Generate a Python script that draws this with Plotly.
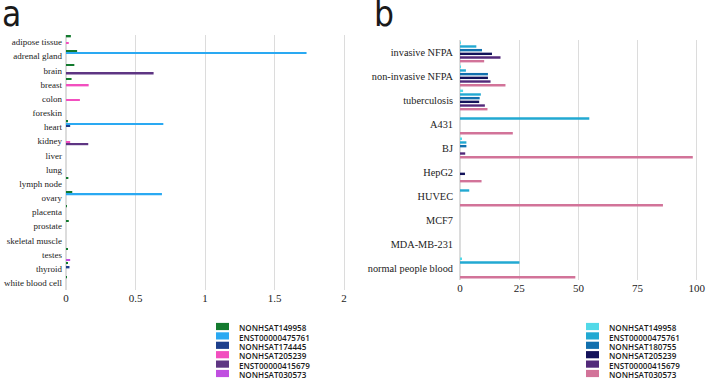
import plotly.graph_objects as go

# ---------- Panel a data ----------
tissues = ["adipose tissue", "adrenal gland", "brain", "breast", "colon", "foreskin",
           "heart", "kidney", "liver", "lung", "lymph node", "ovary", "placenta",
           "prostate", "skeletal muscle", "testes", "thyroid", "white blood cell"]
a_names = ["NONHSAT149958", "ENST00000475761", "NONHSAT174445",
           "NONHSAT205239", "ENST00000415679", "NONHSAT030573"]
a_nonhsat149958 = [0.035, 0.08, 0.06, 0.04, 0, 0, 0.01, 0, 0, 0, 0.017, 0.045, 0.006, 0.02, 0, 0.01, 0.01, 0.005]
a_enst475761    = [0, 1.73, 0, 0, 0, 0, 0.70, 0, 0, 0, 0, 0.69, 0, 0, 0, 0, 0, 0]
a_nonhsat174445 = [0, 0, 0, 0, 0, 0, 0.03, 0, 0, 0, 0, 0, 0, 0, 0, 0, 0.025, 0]
a_nonhsat205239 = [0.02, 0, 0, 0.163, 0.10, 0, 0, 0.03, 0, 0, 0, 0, 0, 0, 0, 0, 0, 0]
a_enst415679    = [0, 0, 0.63, 0, 0, 0, 0, 0.16, 0, 0, 0, 0, 0, 0, 0, 0, 0, 0]
a_nonhsat030573 = [0, 0, 0, 0, 0, 0, 0, 0, 0, 0, 0, 0, 0, 0, 0, 0.03, 0, 0]
a_values = [a_nonhsat149958, a_enst475761, a_nonhsat174445,
            a_nonhsat205239, a_enst415679, a_nonhsat030573]
a_colors = ["#137a2e", "#2aa9f2", "#1d3f8c", "#f24fbf", "#5e3583", "#c04fe0"]
a_ticks = [0, 0.5, 1, 1.5, 2]
a_ticktext = ["0", "0.5", "1", "1.5", "2"]

# ---------- Panel b data ----------
samples = ["invasive NFPA", "non-invasive NFPA", "tuberculosis", "A431", "BJ",
           "HepG2", "HUVEC", "MCF7", "MDA-MB-231", "normal people blood"]
b_names = ["NONHSAT149958", "ENST00000475761", "NONHSAT180755",
           "NONHSAT205239", "ENST00000415679", "NONHSAT030573"]
b_nonhsat149958 = [0.4, 0.3, 1.3, 0, 0.5, 0, 0, 0, 0, 0.5]
b_enst475761    = [6.9, 2.5, 8.8, 54.6, 2.7, 0, 3.9, 0, 0, 25.1]
b_nonhsat180755 = [9.3, 11.8, 8.3, 0, 2.7, 0, 0, 0, 0, 0]
b_nonhsat205239 = [13.5, 11.8, 8.1, 0, 0, 2.1, 0, 0, 0, 0]
b_enst415679    = [17.1, 12.9, 10.5, 0, 2.2, 0, 0, 0, 0, 0]
b_nonhsat030573 = [10.2, 19.2, 11.6, 22.3, 98.3, 9.1, 85.7, 0, 0, 48.7]
b_values = [b_nonhsat149958, b_enst475761, b_nonhsat180755,
            b_nonhsat205239, b_enst415679, b_nonhsat030573]
b_colors = ["#52d9e8", "#22a9d2", "#1270ae", "#13125a", "#52297a", "#d27399"]
b_ticks = [0, 25, 50, 75, 100]
b_ticktext = ["0", "25", "50", "75", "100"]

W, H = 708, 385
fig = go.Figure()

for name, vals, col in zip(a_names, a_values, a_colors):
    fig.add_trace(go.Bar(y=tissues, x=vals, name=name, orientation="h",
                         marker=dict(color=col, line=dict(width=0)),
                         xaxis="x", yaxis="y", showlegend=False))
for name, vals, col in zip(b_names, b_values, b_colors):
    fig.add_trace(go.Bar(y=samples, x=vals, name=name, orientation="h",
                         marker=dict(color=col, line=dict(width=0)),
                         xaxis="x2", yaxis="y2", showlegend=False))

serif = "Liberation Serif, Times New Roman, serif"
grid = "#dcdcdc"
letter_font = dict(family="Liberation Sans Narrow, DejaVu Sans Condensed, sans-serif",
                   size=35, color="#1a1a1a")


def px_x(p):
    return p / W


def px_y(p):
    return 1 - p / H


# manual legends (swatch + label), built from the names/colours lists
shapes = []
annotations = []


def add_legend(names, colors, x0, y0, step):
    for i, (n, c) in enumerate(zip(names, colors)):
        yc = y0 + i * step
        shapes.append(dict(type="rect", xref="paper", yref="paper",
                           x0=px_x(x0), x1=px_x(x0 + 13),
                           y0=px_y(yc - 3.6), y1=px_y(yc + 3.6),
                           fillcolor=c, line=dict(width=0)))
        annotations.append(dict(text=n, xref="paper", yref="paper",
                                x=px_x(x0 + 21), y=px_y(yc + 1.2), showarrow=False,
                                xanchor="left", yanchor="middle",
                                font=dict(family="Open Sans", size=8.1, weight=600,
                                          color="#1a1a1a")))


add_legend(a_names, a_colors, 216, 326.5, 9.4)
add_legend(b_names, b_colors, 586, 326.5, 9.4)

annotations += [
    dict(text="a", x=px_x(0), y=px_y(14), xref="paper", yref="paper",
         showarrow=False, xanchor="left", yanchor="middle", font=letter_font),
    dict(text="b", x=px_x(372), y=px_y(14), xref="paper", yref="paper",
         showarrow=False, xanchor="left", yanchor="middle", font=letter_font),
]

fig.update_layout(
    width=W, height=H,
    margin=dict(l=0, r=0, t=0, b=0),
    paper_bgcolor="white", plot_bgcolor="white",
    barmode="group", bargap=0.08, bargroupgap=0.35,
    showlegend=False,
    xaxis=dict(domain=[px_x(66), px_x(358)], range=[0, 2.1],
               tickmode="array", tickvals=a_ticks, ticktext=a_ticktext,
               showgrid=True, gridcolor=grid, gridwidth=1,
               zeroline=True, zerolinecolor=grid, showline=False,
               tickfont=dict(family=serif, size=11, color="#222"), anchor="y",
               automargin=False),
    yaxis=dict(domain=[px_y(290), px_y(35)], autorange="reversed",
               tickmode="array", tickvals=tissues, ticktext=tissues,
               showgrid=False, zeroline=False, showline=False,
               tickfont=dict(family=serif, size=9, color="#222"), anchor="x",
               ticklabelstandoff=3, automargin=False),
    xaxis2=dict(domain=[px_x(460), px_x(698)], range=[0, 100.5],
                tickmode="array", tickvals=b_ticks, ticktext=b_ticktext,
                showgrid=True, gridcolor=grid, gridwidth=1,
                zeroline=True, zerolinecolor=grid, showline=False,
                tickfont=dict(family=serif, size=11, color="#222"), anchor="y2",
                automargin=False),
    yaxis2=dict(domain=[px_y(280), px_y(40)], autorange="reversed",
                tickmode="array", tickvals=samples, ticktext=samples,
                showgrid=False, zeroline=False, showline=False,
                tickfont=dict(family=serif, size=10.3, color="#222"), anchor="x2",
                ticklabelstandoff=6, automargin=False),
    shapes=shapes,
    annotations=annotations,
)

fig.write_html("out.html", config={"displayModeBar": False},
               post_script="document.body.style.margin='0';document.body.style.padding='0';")
